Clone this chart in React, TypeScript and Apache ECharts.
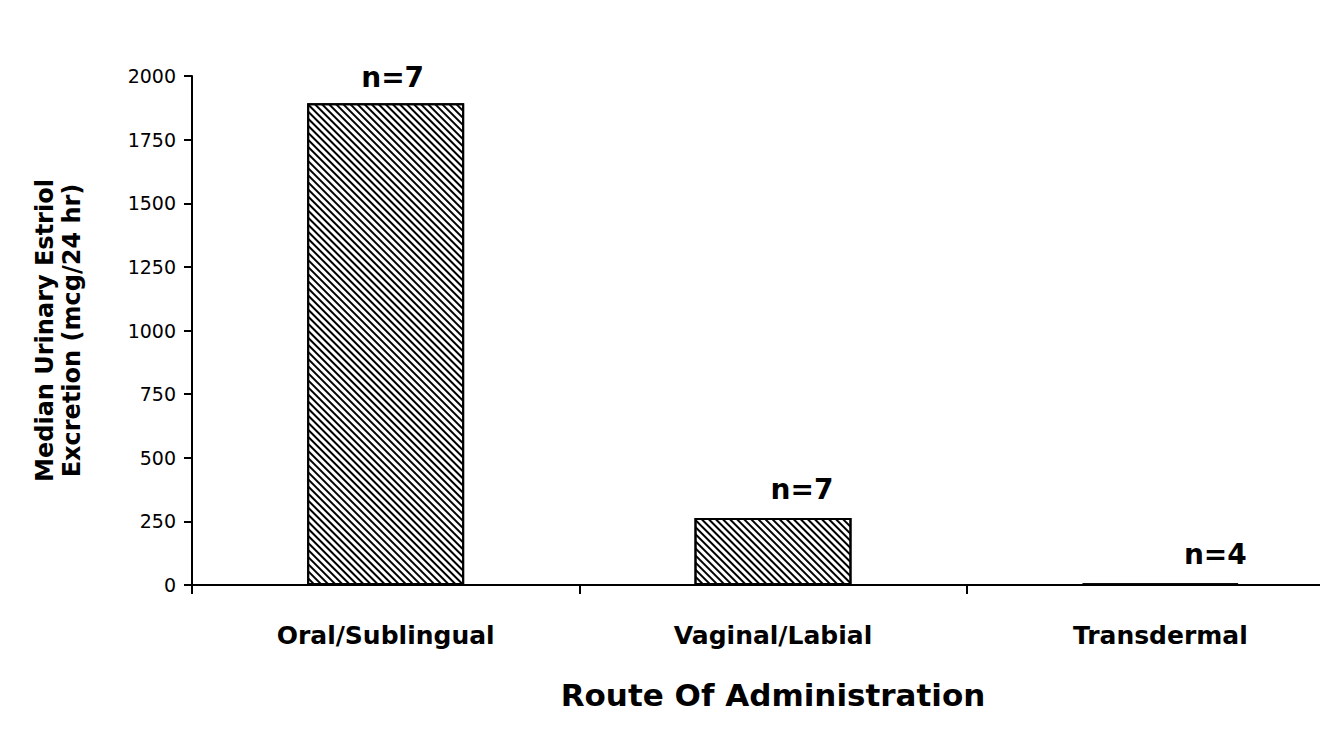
import React, { useEffect, useRef } from "react";
import * as echarts from "echarts";

const categories = ["Oral/Sublingual", "Vaginal/Labial", "Transdermal"];
const medianValues = [1893, 263, 6];
const sampleLabels = ["n=7", "n=7", "n=4"];
const yTicks = [0, 250, 500, 750, 1000, 1250, 1500, 1750, 2000];

const labelOffsets = [
  [7, 1],
  [29, -2],
  [55, -2],
];

const FONT = "'DejaVu Sans', Verdana, sans-serif";

export default function App() {
  const ref = useRef<HTMLDivElement>(null);

  useEffect(() => {
    document.body.style.margin = "0";
    if (!ref.current) return;
    const chart = echarts.init(ref.current, undefined, { renderer: "svg" });
    chart.setOption({
      animation: false,
      backgroundColor: "#ffffff",
      grid: { left: 192, top: 76, width: 1162, height: 509 },
      xAxis: {
        type: "category",
        data: categories,
        name: "Route Of Administration",
        nameLocation: "middle",
        nameGap: 94,
        nameTextStyle: {
          fontFamily: FONT,
          fontSize: 31,
          fontWeight: "bold",
          color: "#000",
        },
        axisLine: { lineStyle: { color: "#000", width: 2 } },
        axisTick: { show: true, length: 9, inside: false, lineStyle: { color: "#000", width: 2 } },
        axisLabel: {
          margin: 38,
          fontFamily: FONT,
          fontSize: 25,
          fontWeight: "bold",
          color: "#000",
        },
        splitLine: { show: false },
      },
      yAxis: {
        type: "value",
        min: 0,
        max: 2000,
        interval: 250,
        name: "Median Urinary Estriol\nExcretion (mcg/24 hr)",
        nameLocation: "middle",
        nameGap: 107,
        nameRotate: 90,
        nameTextStyle: {
          fontFamily: FONT,
          fontSize: 24,
          fontWeight: "bold",
          color: "#000",
          lineHeight: 27,
        },
        axisLine: { show: true, lineStyle: { color: "#000", width: 2 } },
        axisTick: { show: true, length: 8, lineStyle: { color: "#000", width: 2 } },
        axisLabel: {
          margin: 16,
          fontFamily: FONT,
          fontSize: 19,
          color: "#000",
          formatter: (v: number) => (yTicks.includes(v) ? String(v) : ""),
        },
        splitLine: { show: false },
      },
      series: [
        {
          type: "bar",
          barWidth: 157,
          data: medianValues.map((v, i) => ({
            value: v,
            label: {
              show: true,
              position: "top",
              distance: 13,
              offset: labelOffsets[i],
              formatter: () => sampleLabels[i],
              fontFamily: FONT,
              fontSize: 28,
              fontWeight: "bold",
              color: "#000",
            },
          })),
          itemStyle: {
            color: "#ffffff",
            borderColor: "#000",
            borderWidth: 2,
            decal: {
              symbol: "rect",
              symbolSize: 1,
              dashArrayX: [1, 0],
              dashArrayY: [2, 2.2],
              rotation: Math.PI / 4,
              color: "#000",
            },
          },
        },
      ],
    });
    return () => chart.dispose();
  }, []);

  return (
    <div style={{ width: 1320, height: 740, overflow: "hidden", position: "relative" }}>
      <div ref={ref} style={{ width: 1360, height: 740 }} />
    </div>
  );
}
